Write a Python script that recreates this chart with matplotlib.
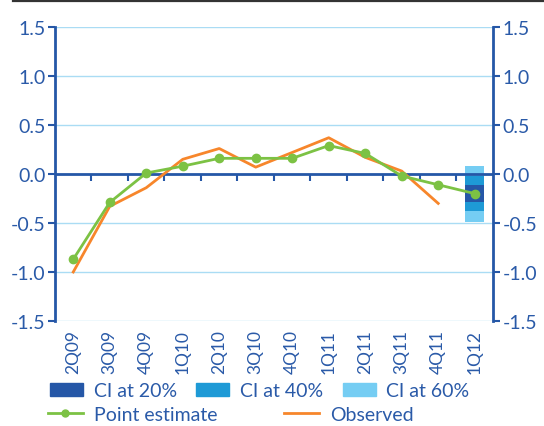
import matplotlib
matplotlib.use("Agg")
import matplotlib.pyplot as plt
import numpy as np
from matplotlib.lines import Line2D
from matplotlib.patches import Patch

quarters = ["2Q09", "3Q09", "4Q09", "1Q10", "2Q10", "3Q10", "4Q10",
            "1Q11", "2Q11", "3Q11", "4Q11", "1Q12"]
point_estimate = [-0.87, -0.29, 0.01, 0.08, 0.16, 0.16, 0.16, 0.29, 0.21, -0.02, -0.11, -0.20]
observed = [-1.00, -0.33, -0.14, 0.15, 0.26, 0.07, 0.22, 0.37, 0.17, 0.03, -0.30, np.nan]
# confidence bands for the forecast quarter: (low, high)
ci_60 = (-0.49, 0.08)
ci_40 = (-0.38, -0.02)
ci_20 = (-0.29, -0.11)
y_ticks = [-1.5, -1.0, -0.5, 0.0, 0.5, 1.0, 1.5]

DARK = "#2557a7"
MID = "#1e9ad6"
LIGHT = "#75cdf3"
GREEN = "#7cc244"
ORANGE = "#f7862b"
GRID = "#aadcf4"
TEXT = "#2a5aa8"

plt.rcParams.update({
    "font.family": ["Lato", "DejaVu Sans"],
    "font.size": 13,
})

fig = plt.figure(figsize=(5.44, 4.27), dpi=100)
ax = fig.add_axes([0.1011, 0.2459, 0.8051, 0.6885])

x = np.arange(len(quarters))
ax.set_xlim(-0.5, len(quarters) - 0.5)
ax.set_ylim(-1.5, 1.5)

for yv in y_ticks:
    if yv != 0:
        ax.axhline(yv, color=GRID, lw=1.0, zorder=0)
ax.axhline(0, color=DARK, lw=2.0, zorder=2)

last = x[-1]
bar_w = 0.52
ax.bar(last, ci_60[1] - ci_60[0], bottom=ci_60[0], width=bar_w, color=LIGHT, zorder=1)
ax.bar(last, ci_40[1] - ci_40[0], bottom=ci_40[0], width=bar_w, color=MID, zorder=1)
ax.bar(last, ci_20[1] - ci_20[0], bottom=ci_20[0], width=bar_w, color=DARK, zorder=1)

ax.plot(x, observed, color=ORANGE, lw=2.0, zorder=3)
ax.plot(x, point_estimate, color=GREEN, lw=2.0, marker="o", ms=6, zorder=4)

for side in ["top", "bottom"]:
    ax.spines[side].set_visible(False)
for side in ["left", "right"]:
    ax.spines[side].set_color(DARK)
    ax.spines[side].set_linewidth(2.0)

ax.set_yticks(y_ticks)
ax.set_yticklabels([f"{v:.1f}" for v in y_ticks])
ax.tick_params(axis="y", which="both", left=True, right=True, labelleft=True, labelright=True,
               direction="out", length=5, width=1.5, color=DARK, labelcolor=TEXT,
               labelsize=14, pad=2)

ax.set_xticks(x)
ax.set_xticklabels(quarters, rotation=90, color=TEXT, fontsize=12.5)
ax.tick_params(axis="x", length=0, pad=6)

# boundary ticks hanging below the zero line
sec = ax.secondary_xaxis(0.4999)
sec.set_xticks(x[1:] - 0.5)
sec.tick_params(axis="x", direction="out", length=5, width=1.5, color=DARK,
                labeltop=False, labelbottom=False)
sec.spines[:].set_visible(False)

fig.add_artist(Line2D([0.024, 1.0], [0.995, 0.995], color="#333333", lw=1.6))

leg1 = fig.legend(
    handles=[Patch(color=DARK, label="CI at 20%"),
             Patch(color=MID, label="CI at 40%"),
             Patch(color=LIGHT, label="CI at 60%")],
    loc="center left", bbox_to_anchor=(0.092, 0.082), ncol=3, frameon=False,
    handlelength=1.7, handleheight=0.6, handletextpad=0.55, columnspacing=1.0,
    labelcolor=TEXT, fontsize=14, borderpad=0, borderaxespad=0,
)
leg2 = fig.legend(
    handles=[Line2D([], [], color=GREEN, lw=2, marker="o", ms=5, label="Point estimate"),
             Line2D([], [], color=ORANGE, lw=2, label="Observed")],
    loc="center left", bbox_to_anchor=(0.088, 0.028), ncol=2, frameon=False,
    handlelength=1.8, handletextpad=0.55, columnspacing=3.45,
    labelcolor=TEXT, fontsize=14, borderpad=0, borderaxespad=0,
)

fig.savefig("out.png", dpi=100)
